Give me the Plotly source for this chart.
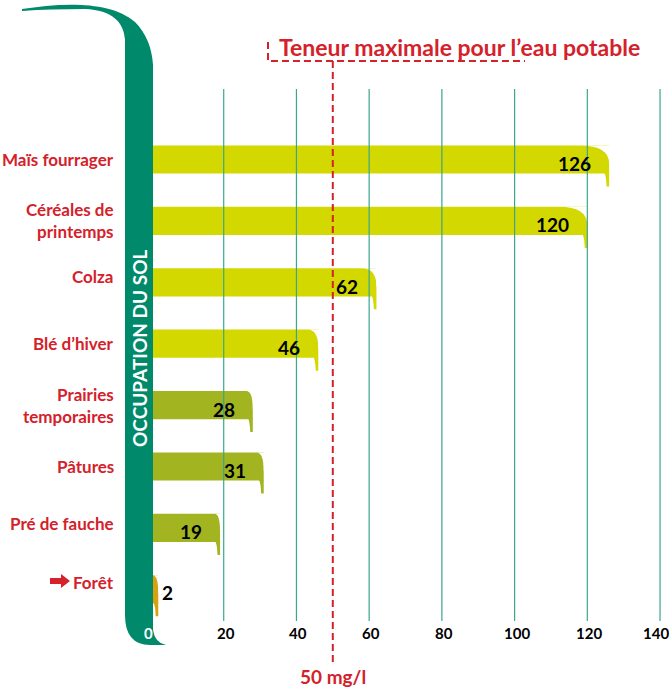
import plotly.graph_objects as go

# --- données ---
categories = ["Maïs fourrager", "Céréales de<br>printemps", "Colza", "Blé d’hiver",
              "Prairies<br>temporaires", "Pâtures", "Pré de fauche", "Forêt"]
values = [126, 120, 62, 46, 28, 31, 19, 2]
bar_colors = ["#d3d800", "#d3d800", "#d3d800", "#d3d800",
              "#a2b41f", "#a2b41f", "#a2b41f", "#d9a20c"]
tick_values = [0, 20, 40, 60, 80, 100, 120, 140]
seuil = 50

RED = "#d4212a"
GREEN = "#00896a"
GRID = "#3aa68c"
FONT = "Lato, sans-serif"

W, H = 669, 691
# échelle : pixels <-> unités des axes
X0, XS = 151.0, 3.636
Y0, YS = 159.5, 61.4


def dx(px):
    return (px - X0) / XS


def dy(py):
    return (py - Y0) / YS


def P(px, py):
    return f"{dx(px):.3f},{dy(py):.3f}"


pos = list(range(len(categories)))
bw = 0.46

fig = go.Figure()
fig.add_trace(go.Bar(x=values, y=pos, orientation="h", width=bw,
                     marker=dict(color=bar_colors, line_width=0),
                     hoverinfo="skip"))

shapes = []
annotations = []

# bout des barres : coin arrondi + petite languette
for i, v in enumerate(values):
    top, bot = i - bw / 2, i + bw / 2
    r = max(1.5, min(8.0, 0.065 * v))
    dv = 0.3
    shapes.append(dict(type="path", layer="above", line_width=0, fillcolor="white",
                       path=f"M {v - r},{top} L {v + 0.4},{top} L {v + 0.4},{top + dv} "
                            f"L {v},{top + dv} Q {v},{top} {v - r},{top} Z"))
    shapes.append(dict(type="path", layer="above", line_width=0, fillcolor=bar_colors[i],
                       path=f"M {v - 1.3},{bot - 0.01} L {v},{bot - 0.01} L {v},{bot + 0.21} "
                            f"L {v - 0.7},{bot + 0.21} Q {v - 0.8},{bot + 0.04} {v - 1.3},{bot - 0.01} Z"))

# grille verticale
for t in tick_values[1:]:
    shapes.append(dict(type="line", layer="above", x0=t, x1=t, y0=dy(89), y1=dy(621),
                       line=dict(color=GRID, width=1.2)))

# pilier "occupation du sol"
pillar = (f"M {P(22, 9)} C {P(60, 3)} {P(110, 0)} {P(135, 22)} "
          f"C {P(146, 33)} {P(152, 48)} {P(153, 65)} L {P(153, 630)} "
          f"Q {P(155, 643)} {P(166, 645)} L {P(150, 645)} Q {P(125, 645)} {P(125, 615)} "
          f"L {P(125, 40)} C {P(124, 22)} {P(112, 10)} {P(85, 9)} Q {P(50, 9)} {P(22, 11)} Z")
shapes.append(dict(type="path", layer="above", path=pillar, fillcolor=GREEN, line_width=0))

# seuil 50 mg/l
shapes.append(dict(type="line", layer="above", x0=seuil, x1=seuil, y0=dy(61), y1=dy(666),
                   line=dict(color=RED, width=2, dash="7px,4px")))
shapes.append(dict(type="path", layer="above",
                   path=f"M {P(268, 42)} L {P(268, 61)} L {P(525, 61)}",
                   line=dict(color=RED, width=2, dash="7px,4px")))

# flèche forêt
arrow = (f"M {P(50, 578)} L {P(61, 578)} L {P(61, 574)} L {P(70, 581)} "
         f"L {P(61, 588)} L {P(61, 584)} L {P(50, 584)} Z")
shapes.append(dict(type="path", layer="above", path=arrow, fillcolor=RED, line_width=0))

# libellés des catégories
nudge = {"Colza": 6, "Forêt": 7, "Pré de fauche": 4}
for i, c in enumerate(categories):
    annotations.append(dict(x=dx(116), y=i, text=f"<b>{c}</b>", showarrow=False,
                            xanchor="right", align="right", yshift=nudge.get(c, 0),
                            font=dict(family=FONT, size=17, color=RED)))

# valeurs
for i, v in enumerate(values):
    if v > 5:
        annotations.append(dict(x=v, y=i, text=f"<b>{v}</b>", showarrow=False,
                                xanchor="right", xshift=-16, yshift=-4,
                                font=dict(family=FONT, size=19, color="black")))
    else:
        annotations.append(dict(x=v, y=i, text=f"<b>{v}</b>", showarrow=False,
                                xanchor="left", xshift=2, yshift=-3,
                                font=dict(family=FONT, size=19, color="black")))

# graduations
for t in tick_values:
    annotations.append(dict(x=t, y=dy(633), text=f"<b>{t}</b>", showarrow=False,
                            xshift=-3 if t == 0 else (-4 if t == tick_values[-1] else 2),
                            font=dict(family=FONT, size=15,
                                      color="white" if t == 0 else "black")))

annotations.append(dict(x=dx(139), y=dy(348), text="<b>OCCUPATION DU SOL</b>",
                        textangle=-90, showarrow=False,
                        font=dict(family=FONT, size=19, color="white")))
annotations.append(dict(x=dx(277), y=dy(47), text="<b>Teneur maximale pour l’eau potable</b>",
                        xanchor="left", showarrow=False,
                        font=dict(family=FONT, size=23, color=RED)))
annotations.append(dict(x=seuil, y=dy(676), text="<b>50 mg/l</b>", showarrow=False,
                        font=dict(family=FONT, size=19, color=RED)))

fig.update_layout(
    width=W, height=H,
    margin=dict(l=0, r=0, t=0, b=0),
    plot_bgcolor="white", paper_bgcolor="white",
    showlegend=False,
    xaxis=dict(range=[dx(0), dx(W)], visible=False, fixedrange=True),
    yaxis=dict(range=[dy(H), dy(0)], visible=False, fixedrange=True),
    shapes=shapes,
    annotations=annotations,
)

fig.write_html("out.html", config={"displayModeBar": False},
               post_script="document.body.style.margin='0';")
